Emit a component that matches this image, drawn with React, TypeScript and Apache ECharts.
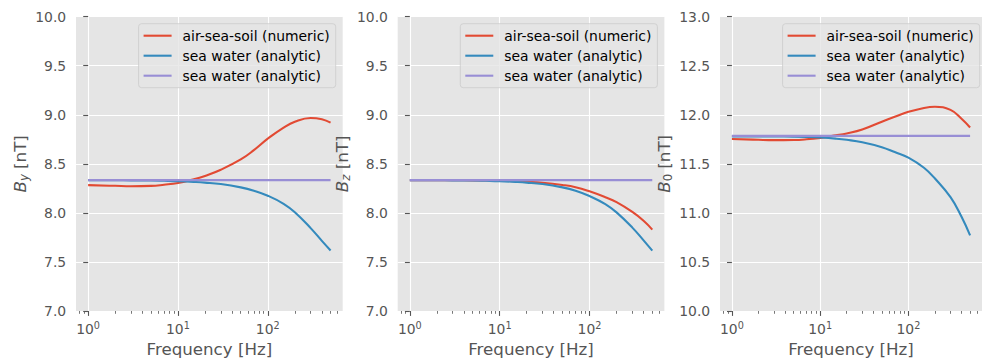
import React, { useEffect, useRef } from "react";
import * as echarts from "echarts";

// ---- data ----
const freqHz = [1, 2, 3, 5, 7, 10, 15, 20, 30, 50, 70, 100, 150, 200, 300, 400, 500];

const byNumeric = [8.283, 8.276, 8.272, 8.275, 8.287, 8.305, 8.342, 8.377, 8.44, 8.545, 8.64, 8.757, 8.87, 8.93, 8.968, 8.955, 8.92];
const byAnalytic = [8.334, 8.333, 8.332, 8.33, 8.327, 8.323, 8.316, 8.309, 8.294, 8.26, 8.226, 8.175, 8.093, 8.007, 7.845, 7.715, 7.617];
const byConst = [8.334, 8.334, 8.334, 8.334, 8.334, 8.334, 8.334, 8.334, 8.334, 8.334, 8.334, 8.334, 8.334, 8.334, 8.334, 8.334, 8.334];

const bzNumeric = [8.333, 8.333, 8.333, 8.332, 8.331, 8.328, 8.324, 8.318, 8.308, 8.285, 8.262, 8.22, 8.16, 8.11, 8.01, 7.92, 7.83];
const bzAnalytic = [8.334, 8.333, 8.332, 8.33, 8.327, 8.323, 8.316, 8.309, 8.294, 8.26, 8.226, 8.172, 8.09, 8.005, 7.85, 7.72, 7.615];
const bzConst = [8.334, 8.334, 8.334, 8.334, 8.334, 8.334, 8.334, 8.334, 8.334, 8.334, 8.334, 8.334, 8.334, 8.334, 8.334, 8.334, 8.334];

const b0Numeric = [11.753, 11.745, 11.742, 11.743, 11.75, 11.765, 11.79, 11.81, 11.85, 11.93, 11.98, 12.03, 12.07, 12.082, 12.05, 11.96, 11.87];
const b0Analytic = [11.78, 11.78, 11.779, 11.777, 11.774, 11.768, 11.757, 11.745, 11.72, 11.67, 11.62, 11.564, 11.46, 11.35, 11.16, 10.96, 10.77];
const b0Const = [11.785, 11.785, 11.785, 11.785, 11.785, 11.785, 11.785, 11.785, 11.785, 11.785, 11.785, 11.785, 11.785, 11.785, 11.785, 11.785, 11.785];

const seriesNames = ["air-sea-soil (numeric)", "sea water (analytic)", "sea water (analytic)#2"];
const seriesColors = ["#E24A33", "#348ABD", "#988ED5"];

const majorTicksHz = [1, 10, 100];
const minorTicksHz = [0.8, 0.9, 2, 3, 4, 5, 6, 7, 8, 9, 20, 30, 40, 50, 60, 70, 80, 90, 200, 300, 400, 500, 600];

const yRanges = [
  [7, 10],
  [7, 10],
  [10, 13],
];
const ySubs = ["y", "z", "0"];
const xTitle = "Frequency [Hz]";

const panels = [
  [byNumeric, byAnalytic, byConst],
  [bzNumeric, bzAnalytic, bzConst],
  [b0Numeric, b0Analytic, b0Const],
];

// ---- layout ----
const W = 982;
const H = 363;
const gridLeft = [76, 397.7, 720];
const gridTop = 16.7;
const gridW = 266.7;
const gridH = 295.3;
const FONT = "DejaVu Sans";
const TICK = "#555555";

function buildOption() {
  const lmin = Math.log10(freqHz[0]);
  const lmax = Math.log10(freqHz[freqHz.length - 1]);
  const span = lmax - lmin;
  const xMin = lmin - 0.05 * span;
  const xMax = lmax + 0.05 * span;
  const majors = majorTicksHz.map((f) => Math.log10(f));
  const minors = minorTicksHz.map((f) => Math.log10(f));

  const grid: any[] = [];
  const xAxis: any[] = [];
  const yAxis: any[] = [];
  const series: any[] = [];
  const legend: any[] = [];

  panels.forEach((vals, i) => {
    grid.push({
      left: gridLeft[i],
      top: gridTop,
      width: gridW,
      height: gridH,
      show: true,
      backgroundColor: "#E5E5E5",
      borderWidth: 0,
      containLabel: false,
    });
    xAxis.push({
      type: "value",
      gridIndex: i,
      position: "bottom",
      min: xMin,
      max: xMax,
      axisLine: { show: false, onZero: false },
      axisTick: {
        show: true,
        customValues: majors,
        length: 4.9,
        lineStyle: { color: TICK, width: 1.1 },
      },
      axisLabel: {
        show: true,
        customValues: majors,
        margin: 9,
        formatter: (v: number) => `{b|10}{p|${Math.round(v)}}`,
        rich: {
          b: { fontSize: 13.9, fontFamily: FONT, color: TICK, lineHeight: 16, verticalAlign: "bottom" },
          p: { fontSize: 9.7, fontFamily: FONT, color: TICK, lineHeight: 10, verticalAlign: "top" },
        },
      },
      splitLine: { show: true, lineStyle: { color: "#ffffff", width: 1.1 } },
      name: xTitle,
      nameLocation: "middle",
      nameGap: 30,
      nameTextStyle: { fontSize: 16.67, color: TICK, fontFamily: FONT },
    });
    xAxis.push({
      type: "value",
      gridIndex: i,
      position: "bottom",
      min: xMin,
      max: xMax,
      axisLine: { show: false, onZero: false },
      axisTick: {
        show: true,
        customValues: minors,
        length: 2.8,
        lineStyle: { color: TICK, width: 0.8 },
      },
      axisLabel: { show: false },
      splitLine: { show: false },
    });
    yAxis.push({
      type: "value",
      gridIndex: i,
      min: yRanges[i][0],
      max: yRanges[i][1],
      interval: 0.5,
      axisLine: { show: false },
      axisTick: { show: true, length: 4.9, lineStyle: { color: TICK, width: 1.1 } },
      axisLabel: {
        margin: 9.8,
        fontSize: 13.9,
        color: TICK,
        fontFamily: FONT,
        formatter: (v: number) => v.toFixed(1),
      },
      splitLine: { show: true, lineStyle: { color: "#ffffff", width: 1.1 } },
      name: `{i|B}{s|${ySubs[i]}}{n| [nT]}`,
      nameLocation: "middle",
      nameGap: 46,
      nameRotate: 90,
      nameTextStyle: {
        color: TICK,
        fontFamily: FONT,
        fontSize: 16.67,
        rich: {
          i: { fontSize: 16.67, fontStyle: "italic", color: TICK, fontFamily: FONT, lineHeight: 18, verticalAlign: "top" },
          s: { fontSize: 11.7, fontStyle: ySubs[i] === "0" ? "normal" : "italic", color: TICK, fontFamily: FONT, lineHeight: 12, verticalAlign: "bottom" },
          n: { fontSize: 16.67, color: TICK, fontFamily: FONT, lineHeight: 18, verticalAlign: "top" },
        },
      },
    });
    vals.forEach((arr, k) => {
      series.push({
        type: "line",
        name: seriesNames[k],
        xAxisIndex: 2 * i,
        yAxisIndex: i,
        data: freqHz.map((f, j) => [Math.log10(f), arr[j]]),
        symbol: "none",
        smooth: 0.45,
        color: seriesColors[k],
        lineStyle: { width: 2.1, color: seriesColors[k] },
        z: 3 + k,
      });
    });
    legend.push({
      orient: "vertical",
      right: W - (gridLeft[i] + gridW - 7),
      top: gridTop + 7,
      data: seriesNames,
      selectedMode: false,
      icon: "path://M0,0H28V2.1H0Z",
      itemWidth: 28,
      itemHeight: 14,
      itemGap: 6,
      padding: [5, 6, 5, 5],
      backgroundColor: "rgba(229,229,229,0.8)",
      borderColor: "rgba(204,204,204,0.8)",
      borderWidth: 1,
      borderRadius: 3,
      formatter: (n: string) => n.replace("#2", ""),
      textStyle: { fontSize: 13.9, color: "#000000", fontFamily: FONT, padding: [0, 0, 0, 6] },
    });
  });

  return {
    animation: false,
    backgroundColor: "#ffffff",
    textStyle: { fontFamily: FONT },
    grid,
    xAxis,
    yAxis,
    series,
    legend,
  };
}

export default function App() {
  const ref = useRef<HTMLDivElement>(null);
  useEffect(() => {
    if (!ref.current) return;
    const chart = echarts.init(ref.current, undefined, { renderer: "svg" });
    chart.setOption(buildOption() as any);
    return () => chart.dispose();
  }, []);
  return (
    <div
      ref={ref}
      style={{ position: "fixed", left: 0, top: 0, width: W, height: H, background: "#ffffff" }}
    />
  );
}
